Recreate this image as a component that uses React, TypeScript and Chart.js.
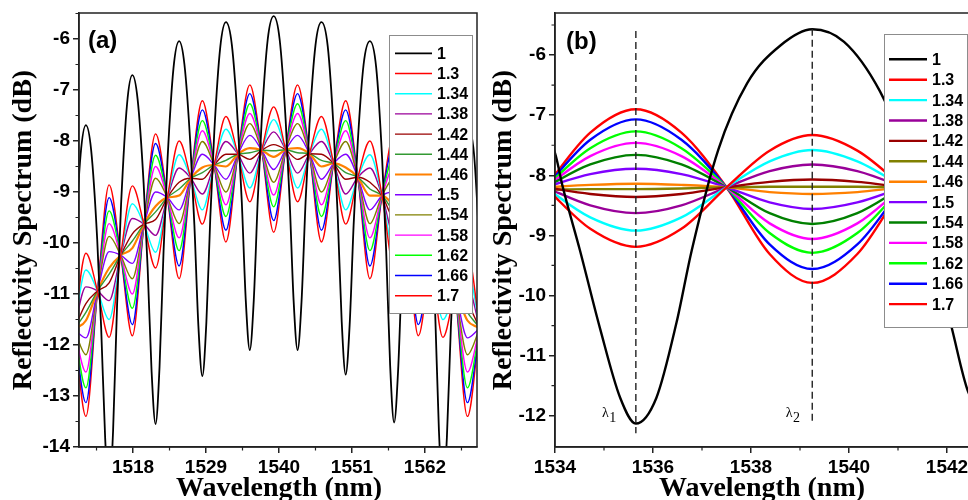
import React, { useEffect, useRef } from "react";
import { Chart, registerables } from "chart.js";

Chart.register(...registerables);

const SANS = '"Liberation Sans", Arial, sans-serif';
const SERIF = '"Liberation Serif", "Times New Roman", serif';

const LABELS = ["1", "1.3", "1.34", "1.38", "1.42", "1.44", "1.46", "1.5", "1.54", "1.58", "1.62", "1.66", "1.7"];
const COLORS_A = ["#000000", "#ff0000", "#00ffff", "#990099", "#990000", "#339933", "#ff8000", "#8000ff", "#808000", "#ff00ff", "#00ff00", "#0000ff", "#ff0000"];
const COLORS_B = ["#000000", "#ff0000", "#00ffff", "#990099", "#990000", "#808000", "#ff8000", "#8000ff", "#008000", "#ff00ff", "#00ff00", "#0000ff", "#ff0000"];

// ---------- Panel (a) ----------
const A_X_TICKS = [1518, 1529, 1540, 1551, 1562];
const A_X_MINOR = [1512.5, 1523.5, 1534.5, 1545.5, 1556.5, 1567.5];
const A_Y_TICKS = [-14, -13, -12, -11, -10, -9, -8, -7, -6];
const A_Y_MINOR = [-13.5, -12.5, -11.5, -10.5, -9.5, -8.5, -7.5, -6.5, -5.5];

// wavelengths of the extremes of the coloured curves and of their common crossing points
const A_EXTREME_X = [1507.4, 1510.9, 1514.4, 1517.9, 1521.4, 1524.95, 1528.45, 1532.0, 1535.6, 1539.2, 1542.8, 1546.4, 1550.05, 1553.7, 1557.35, 1561.0, 1564.7, 1568.4, 1572.1];
const A_NODE_X = [1509.15, 1512.65, 1516.15, 1519.65, 1523.18, 1526.7, 1530.23, 1533.8, 1537.4, 1541.0, 1544.6, 1548.23, 1551.88, 1555.53, 1559.18, 1562.85, 1566.55, 1570.25];
const A_NODE_Y = [-11.7, -10.94, -10.24, -9.63, -9.11, -8.73, -8.47, -8.26, -8.18, -8.17, -8.25, -8.44, -8.71, -9.07, -9.6, -10.22, -10.92, -11.68];

const A_130 = [-13.56, -10.2, -11.85, -8.88, -10.49, -8.0, -9.63, -7.52, -9.19, -7.33, -9.19, -7.52, -9.63, -8.0, -10.49, -8.88, -11.85, -10.2, -13.56];
const A_134 = [-13.16, -10.53, -11.5, -9.23, -10.18, -8.27, -9.35, -7.77, -8.92, -7.58, -8.92, -7.77, -9.35, -8.27, -10.18, -9.23, -11.5, -10.53, -13.16];
const A_138 = [-12.72, -10.86, -11.13, -9.52, -9.85, -8.53, -9.04, -8.01, -8.63, -7.82, -8.63, -8.01, -9.04, -8.53, -9.85, -9.52, -11.13, -10.86, -12.72];
const A_142 = [-12.32, -11.19, -10.78, -9.82, -9.54, -8.81, -8.75, -8.26, -8.36, -8.07, -8.36, -8.26, -8.75, -8.81, -9.54, -9.82, -10.78, -11.19, -12.32];
const A_144 = [-12.12, -11.36, -10.61, -9.96, -9.39, -8.94, -8.62, -8.38, -8.23, -8.19, -8.23, -8.38, -8.62, -8.94, -9.39, -9.96, -10.61, -11.36, -12.12];
const A_146 = [-11.99, -11.52, -10.49, -10.1, -9.28, -9.07, -8.52, -8.5, -8.14, -8.31, -8.14, -8.5, -8.52, -9.07, -9.28, -10.1, -10.49, -11.52, -11.99];
const A_150 = [-11.61, -11.86, -10.17, -10.4, -9.0, -9.35, -8.26, -8.75, -7.89, -8.56, -7.89, -8.75, -8.26, -9.35, -9.0, -10.4, -10.17, -11.86, -11.61];
const A_154 = [-11.27, -12.19, -9.87, -10.7, -8.73, -9.62, -8.01, -9.0, -7.66, -8.81, -7.66, -9.0, -8.01, -9.62, -8.73, -10.7, -9.87, -12.19, -11.27];
const A_158 = [-10.97, -12.53, -9.62, -11.0, -8.5, -9.9, -7.8, -9.25, -7.46, -9.06, -7.46, -9.25, -7.8, -9.9, -8.5, -11.0, -9.62, -12.53, -10.97];
const A_162 = [-10.68, -12.84, -9.37, -11.28, -8.28, -10.15, -7.6, -9.48, -7.27, -9.29, -7.27, -9.48, -7.6, -10.15, -8.28, -11.28, -9.37, -12.84, -10.68];
const A_166 = [-10.38, -13.13, -9.11, -11.6, -8.05, -10.45, -7.39, -9.75, -7.07, -9.56, -7.07, -9.75, -7.39, -10.45, -8.05, -11.6, -9.11, -13.13, -10.38];
const A_170 = [-10.13, -13.4, -8.86, -11.82, -7.86, -10.7, -7.21, -9.98, -6.9, -9.79, -6.9, -9.98, -7.21, -10.7, -7.86, -11.82, -8.86, -13.4, -10.13];

const A_BLACK_X = [
  1507.4, 1508.0, 1508.6, 1509.2, 1510.1, 1510.9, 1511.7, 1512.6, 1513.2, 1513.8, 1514.4, 1515.0, 1515.6, 1516.2, 1517.1,
  1517.9, 1518.7, 1519.6, 1520.2, 1520.8, 1521.4, 1522.0, 1522.6, 1523.2, 1524.1, 1524.95, 1525.75, 1526.65, 1527.25, 1527.85,
  1528.45, 1529.05, 1529.65, 1530.25, 1531.15, 1532.0, 1532.9, 1533.8, 1534.4, 1535.0, 1535.6, 1536.2, 1536.8, 1537.4, 1538.3,
  1539.2, 1540.1, 1541.0, 1541.6, 1542.2, 1542.8, 1543.4, 1544.0, 1544.6, 1545.5, 1546.4, 1547.35, 1548.25, 1548.85, 1549.45,
  1550.05, 1550.65, 1551.25, 1551.85, 1552.75, 1553.7, 1554.65, 1555.55, 1556.15, 1556.75, 1557.35, 1557.95, 1558.55, 1559.15,
  1560.05, 1561.0, 1562.0, 1562.9, 1563.5, 1564.1, 1564.7, 1565.3, 1565.9, 1566.5, 1567.4, 1568.4, 1569.4, 1570.3,
];
const A_BLACK_Y = [
  -16, -14.75, -12.26, -10.27, -8.27, -7.69, -8.19, -9.92, -11.66, -13.82, -14.9, -13.67, -11.21, -9.25, -7.28,
  -6.71, -7.19, -8.83, -10.47, -12.52, -13.55, -12.42, -10.17, -8.37, -6.57, -6.04, -6.5, -8.08, -9.65, -11.62,
  -12.61, -11.57, -9.49, -7.82, -6.16, -5.67, -6.12, -7.66, -9.21, -11.14, -12.1, -11.12, -9.15, -7.58, -6.01,
  -5.55, -6.01, -7.58, -9.15, -11.12, -12.1, -11.14, -9.21, -7.66, -6.12, -5.67, -6.15, -7.81, -9.47, -11.54,
  -12.58, -11.6, -9.64, -8.07, -6.5, -6.04, -6.56, -8.36, -10.15, -12.4, -13.52, -12.5, -10.46, -8.82,
  -7.19, -6.71, -7.28, -9.25, -11.21, -13.67, -14.9, -13.82, -11.66, -9.92, -8.19, -7.69, -8.27, -10.27,
];

// ---------- Panel (b) ----------
const B_X_TICKS = [1534, 1536, 1538, 1540, 1542];
const B_X_MINOR = [1535, 1537, 1539, 1541];
const B_Y_TICKS = [-12, -11, -10, -9, -8, -7, -6];
const B_Y_MINOR = [-11.5, -10.5, -9.5, -8.5, -7.5, -6.5, -5.5];

const B_X = [1533.8, 1534.72, 1535.65, 1536.58, 1537.5, 1538.38, 1539.25, 1540.17, 1541.1, 1542.0, 1542.9];
const B_130 = [-8.2, -8.89, -9.19, -8.89, -8.2, -7.59, -7.33, -7.59, -8.2, -8.89, -9.19];
const B_134 = [-8.2, -8.7, -8.92, -8.7, -8.2, -7.77, -7.58, -7.77, -8.2, -8.7, -8.92];
const B_138 = [-8.2, -8.5, -8.63, -8.5, -8.2, -7.93, -7.82, -7.93, -8.2, -8.5, -8.63];
const B_142 = [-8.2, -8.31, -8.36, -8.31, -8.2, -8.11, -8.07, -8.11, -8.2, -8.31, -8.36];
const B_144 = [-8.24, -8.23, -8.23, -8.22, -8.2, -8.19, -8.19, -8.19, -8.2, -8.22, -8.23];
const B_146 = [-8.2, -8.16, -8.14, -8.16, -8.2, -8.28, -8.31, -8.28, -8.2, -8.16, -8.14];
const B_150 = [-8.2, -7.98, -7.89, -7.98, -8.2, -8.45, -8.56, -8.45, -8.2, -7.98, -7.89];
const B_154 = [-8.2, -7.82, -7.66, -7.82, -8.2, -8.63, -8.81, -8.63, -8.2, -7.82, -7.66];
const B_158 = [-8.2, -7.68, -7.46, -7.68, -8.2, -8.8, -9.06, -8.8, -8.2, -7.68, -7.46];
const B_162 = [-8.2, -7.55, -7.27, -7.55, -8.2, -8.96, -9.29, -8.96, -8.2, -7.55, -7.27];
const B_166 = [-8.2, -7.41, -7.07, -7.41, -8.2, -9.15, -9.56, -9.15, -8.2, -7.41, -7.07];
const B_170 = [-8.2, -7.29, -6.9, -7.29, -8.2, -9.31, -9.79, -9.31, -8.2, -7.29, -6.9];

const B_BLACK_X = [1533.0, 1534.0, 1534.16, 1534.51, 1534.92, 1535.33, 1535.65, 1536.07, 1536.48, 1536.79, 1537.33, 1537.92, 1538.6, 1539.25, 1539.9, 1540.63, 1541.1, 1541.6, 1542.1, 1542.43, 1542.85];
const B_BLACK_Y = [-6.2, -7.63, -8.2, -9.25, -10.55, -11.7, -12.13, -11.7, -10.45, -9.25, -7.58, -6.47, -5.84, -5.57, -5.78, -6.6, -7.5, -8.9, -10.55, -11.6, -12.1];

const B_LAMBDA = [1535.65, 1539.25];
const B_DASH_TOP = [-5.6, -5.56];
const B_DASH_BOTTOM = [-12.29, -12.09];

// ---------- helpers ----------
const pts = (xs: number[], ys: number[]) => xs.map((x, i) => ({ x, y: ys[i] }));
const interleave = (ext: number[], nodes: number[]) => {
  const out: { x: number; y: number }[] = [];
  for (let i = 0; i < ext.length; i++) {
    out.push({ x: A_EXTREME_X[i], y: ext[i] });
    if (i < nodes.length) out.push({ x: A_NODE_X[i], y: nodes[i] });
  }
  return out;
};

const decor = {
  id: "decor",
  afterDraw(chart: any, _args: any, o: any) {
    const ctx = chart.ctx;
    const { left, top, right, bottom } = chart.chartArea;
    const xs = chart.scales.x;
    const ys = chart.scales.y;
    ctx.save();
    // frame
    ctx.strokeStyle = "#222";
    ctx.lineWidth = 1.5;
    ctx.strokeRect(left, top, right - left, bottom - top);
    // minor ticks
    ctx.lineWidth = 1.2;
    ctx.beginPath();
    for (const v of o.xMinor) {
      const p = xs.getPixelForValue(v);
      ctx.moveTo(p, bottom);
      ctx.lineTo(p, bottom + 3.5);
    }
    for (const v of o.yMinor) {
      const p = ys.getPixelForValue(v);
      ctx.moveTo(left, p);
      ctx.lineTo(left - 3.5, p);
    }
    ctx.stroke();
    // legend
    const L = o.legend;
    ctx.fillStyle = "#fff";
    ctx.fillRect(L.x, L.y, L.w, L.h);
    ctx.strokeStyle = "#8c8c8c";
    ctx.lineWidth = 1;
    ctx.strokeRect(L.x + 0.5, L.y + 0.5, L.w, L.h);
    ctx.font = `bold 16px ${SANS}`;
    ctx.textBaseline = "middle";
    ctx.textAlign = "left";
    let row = 0;
    chart.data.datasets.forEach((ds: any) => {
      if (ds.noLegend) return;
      const y = L.rowY + row * L.rowH;
      ctx.strokeStyle = ds.borderColor;
      ctx.lineWidth = ds.legendWidth || ds.borderWidth;
      ctx.beginPath();
      ctx.moveTo(L.lx0, y);
      ctx.lineTo(L.lx1, y);
      ctx.stroke();
      ctx.fillStyle = "#000";
      ctx.fillText(ds.label, L.tx, y + 1);
      row++;
    });
    // panel tag
    ctx.fillStyle = "#000";
    ctx.font = `bold 24px ${SANS}`;
    ctx.textBaseline = "middle";
    ctx.textAlign = "left";
    ctx.fillText(o.tag, o.tagX, o.tagY);
    // axis titles
    ctx.font = `bold 28px ${SERIF}`;
    ctx.textAlign = "center";
    ctx.textBaseline = "alphabetic";
    ctx.fillText("Wavelength (nm)", o.xTitleX, o.xTitleY);
    ctx.save();
    ctx.translate(o.yTitleX, o.yTitleY);
    ctx.rotate(-Math.PI / 2);
    ctx.fillText("Reflectivity Spectrum (dB)", 0, 0);
    ctx.restore();
    // lambda labels
    if (o.lambdas) {
      ctx.textAlign = "left";
      for (const l of o.lambdas) {
        const px = xs.getPixelForValue(l.x);
        const py = ys.getPixelForValue(l.y);
        ctx.font = `14px ${SERIF}`;
        ctx.fillText("λ", px, py);
        const w = ctx.measureText("λ").width;
        ctx.font = `14px ${SERIF}`;
        ctx.fillText(l.sub, px + w + 0.5, py + 5);
      }
    }
    ctx.restore();
  },
};

function axis(min: number, max: number, ticks: number[], horizontal: boolean, size: number, pad: number) {
  return {
    type: "linear",
    min,
    max,
    afterBuildTicks: (s: any) => {
      s.ticks = ticks.map((v) => ({ value: v }));
    },
    afterFit: (s: any) => {
      if (horizontal) s.height = size;
      else s.width = size;
      s.paddingTop = 0;
      s.paddingBottom = 0;
      s.paddingLeft = 0;
      s.paddingRight = 0;
    },
    ticks: {
      color: "#000",
      font: { family: SANS, size: 19, weight: "bold" },
      padding: pad,
      autoSkip: false,
      maxRotation: 0,
      callback: (v: any) => String(v),
    },
    grid: { drawOnChartArea: false, drawTicks: true, tickLength: 6, color: "#222", lineWidth: 1.5 },
    border: { display: true, color: "#222", width: 1.5 },
  };
}

const lineDefaults = { pointRadius: 0, fill: false, cubicInterpolationMode: "monotone" };

function configA(): any {
  const series = [A_130, A_134, A_138, A_142, A_144, A_146, A_150, A_154, A_158, A_162, A_166, A_170];
  const datasets: any[] = [
    { ...lineDefaults, label: LABELS[0], data: pts(A_BLACK_X, A_BLACK_Y), borderColor: COLORS_A[0], borderWidth: 1.8 },
    ...series.map((s, i) => ({
      ...lineDefaults,
      label: LABELS[i + 1],
      data: interleave(s, A_NODE_Y),
      borderColor: COLORS_A[i + 1],
      borderWidth: i + 1 === 6 ? 2.2 : 1.4,
    })),
  ];
  return {
    type: "line",
    data: { datasets },
    options: {
      responsive: false,
      animation: false,
      devicePixelRatio: 1,
      events: [],
      layout: { padding: { left: 0, right: 7, top: 13, bottom: 0 } },
      scales: {
        x: axis(1509.86, 1569.84, A_X_TICKS, true, 53, 3),
        y: axis(-14, -5.49, A_Y_TICKS, false, 79, 3),
      },
      plugins: {
        legend: { display: false },
        tooltip: { enabled: false },
        decor: {
          xMinor: A_X_MINOR,
          yMinor: A_Y_MINOR,
          legend: { x: 389, y: 35, w: 83, h: 278, rowY: 53.3, rowH: 20.2, lx0: 395, lx1: 432, tx: 437 },
          tag: "(a)",
          tagX: 88,
          tagY: 41,
          xTitleX: 279,
          xTitleY: 496,
          yTitleX: 31,
          yTitleY: 230,
        },
      },
    },
    plugins: [decor],
  };
}

function configB(): any {
  const series = [B_130, B_134, B_138, B_142, B_144, B_146, B_150, B_154, B_158, B_162, B_166, B_170];
  const dashes = B_LAMBDA.map((x, i) => ({
    label: "",
    noLegend: true,
    data: [
      { x, y: B_DASH_TOP[i] },
      { x, y: B_DASH_BOTTOM[i] },
    ],
    borderColor: "#222",
    borderWidth: 1.4,
    borderDash: [7, 4],
    pointRadius: 0,
    tension: 0,
  }));
  const datasets: any[] = [
    ...dashes,
    { ...lineDefaults, label: LABELS[0], data: pts(B_BLACK_X, B_BLACK_Y), borderColor: COLORS_B[0], borderWidth: 2.4 },
    ...series.map((s, i) => ({
      ...lineDefaults,
      label: LABELS[i + 1],
      data: pts(B_X, s),
      borderColor: COLORS_B[i + 1],
      borderWidth: 2.4,
    })),
  ];
  return {
    type: "line",
    data: { datasets },
    options: {
      responsive: false,
      animation: false,
      devicePixelRatio: 1,
      events: [],
      layout: { padding: { left: 0, right: 0, top: 13, bottom: 0 } },
      scales: {
        x: axis(1534, 1542.755, B_X_TICKS, true, 53, 3),
        y: axis(-12.52, -5.3, B_Y_TICKS, false, 71, 3),
      },
      plugins: {
        legend: { display: false },
        tooltip: { enabled: false },
        decor: {
          xMinor: B_X_MINOR,
          yMinor: B_Y_MINOR,
          legend: { x: 400, y: 34, w: 83, h: 293, rowY: 59.3, rowH: 20.4, lx0: 405, lx1: 443, tx: 448 },
          tag: "(b)",
          tagX: 82,
          tagY: 42,
          xTitleX: 278,
          xTitleY: 496,
          yTitleX: 27,
          yTitleY: 230,
          lambdas: [
            { x: 1534.96, y: -12.02, sub: "1" },
            { x: 1538.71, y: -12.02, sub: "2" },
          ],
        },
      },
    },
    plugins: [decor],
  };
}

export default function App() {
  const refA = useRef<HTMLCanvasElement>(null);
  const refB = useRef<HTMLCanvasElement>(null);
  useEffect(() => {
    const a = new Chart(refA.current as HTMLCanvasElement, configA());
    const b = new Chart(refB.current as HTMLCanvasElement, configB());
    return () => {
      a.destroy();
      b.destroy();
    };
  }, []);
  return (
    <div style={{ position: "fixed", left: 0, top: 0, width: 968, height: 500, overflow: "hidden", background: "#fff" }}>
      <canvas ref={refA} width={484} height={500} style={{ position: "absolute", left: 0, top: 0, width: 484, height: 500 }} />
      <canvas ref={refB} width={500} height={500} style={{ position: "absolute", left: 484, top: 0, width: 500, height: 500 }} />
    </div>
  );
}
